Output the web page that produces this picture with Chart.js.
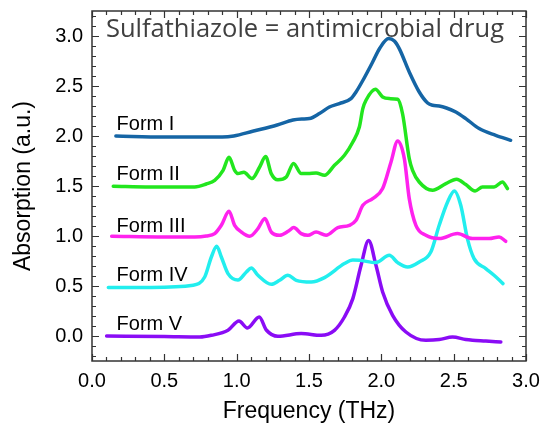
<!DOCTYPE html>
<html>
<head>
<meta charset="utf-8">
<script src="https://cdn.jsdelivr.net/npm/chart.js@4/dist/chart.umd.min.js"></script>
<style>
html,body{margin:0;padding:0;background:#fff;}
#wrap{width:543px;height:425px;position:relative;}
</style>
</head>
<body>
<div id="wrap"><canvas id="c" width="543" height="425"></canvas></div>
<script>
// ---- data ----
const formNames = ["Form I", "Form II", "Form III", "Form IV", "Form V"];
const formColors = ["#1565a5", "#22e61e", "#ff22ee", "#22eeee", "#8a0cf5"];
const labelFreq = [0.17, 0.17, 0.17, 0.17, 0.17];
const labelAbs = [2.06, 1.56, 1.04, 0.55, 0.06];

const formIFreq = [0.165,0.5,0.9,0.98,1.11,1.28,1.389,1.45,1.503,1.572,1.641,1.71,1.79,1.825,1.87,1.94,1.99,2.05,2.09,2.124,2.193,2.262,2.32,2.354,2.4,2.45,2.515,2.584,2.676,2.791,2.894];
const formIAbs  = [2.0,1.99,1.99,2.0,2.047,2.11,2.16,2.17,2.174,2.224,2.29,2.324,2.374,2.44,2.55,2.74,2.88,2.975,2.95,2.874,2.64,2.44,2.33,2.307,2.3,2.28,2.24,2.174,2.074,2.007,1.957];

const formIIFreq = [0.147,0.4,0.71,0.79,0.848,0.906,0.947,0.986,1.009,1.05,1.106,1.159,1.2,1.239,1.285,1.343,1.393,1.446,1.492,1.549,1.607,1.676,1.745,1.803,1.848,1.872,1.894,1.959,2.009,2.055,2.113,2.147,2.193,2.216,2.262,2.354,2.446,2.52,2.584,2.648,2.699,2.779,2.837,2.872];
const formIIAbs  = [1.497,1.49,1.49,1.52,1.557,1.657,1.787,1.657,1.624,1.637,1.574,1.69,1.795,1.624,1.562,1.59,1.725,1.624,1.624,1.63,1.607,1.707,1.807,1.94,2.09,2.274,2.357,2.467,2.39,2.374,2.367,2.22,1.774,1.657,1.54,1.457,1.524,1.567,1.514,1.45,1.49,1.49,1.54,1.474];

const formIIIFreq = [0.136,0.5,0.71,0.79,0.848,0.894,0.947,0.986,1.032,1.09,1.147,1.195,1.239,1.297,1.359,1.395,1.446,1.492,1.549,1.618,1.699,1.779,1.825,1.872,1.94,2.009,2.067,2.113,2.159,2.193,2.239,2.308,2.4,2.526,2.63,2.745,2.814,2.86];
const formIIIAbs  = [0.997,0.99,0.99,1.0,1.024,1.107,1.247,1.107,1.04,0.997,1.074,1.175,1.04,1.007,1.05,1.084,1.024,1.007,1.04,1.007,1.084,1.107,1.157,1.307,1.374,1.474,1.74,1.95,1.774,1.374,1.107,1.007,0.974,1.024,0.974,0.974,0.99,0.947];

const formIVFreq = [0.113,0.4,0.699,0.779,0.825,0.862,0.894,0.94,1.009,1.067,1.101,1.147,1.239,1.297,1.354,1.412,1.515,1.607,1.745,1.803,1.848,1.963,2.055,2.113,2.182,2.262,2.342,2.4,2.458,2.505,2.549,2.595,2.641,2.722,2.779,2.841];
const formIVAbs  = [0.484,0.485,0.507,0.59,0.79,0.897,0.79,0.624,0.56,0.64,0.68,0.607,0.517,0.557,0.607,0.557,0.54,0.584,0.724,0.76,0.757,0.734,0.807,0.734,0.69,0.74,0.84,1.107,1.34,1.45,1.307,0.974,0.774,0.674,0.607,0.524];

const formVFreq = [0.101,0.5,0.745,0.825,0.94,1.016,1.074,1.156,1.205,1.285,1.446,1.584,1.676,1.745,1.803,1.86,1.912,1.963,2.009,2.078,2.17,2.308,2.4,2.492,2.584,2.63,2.722,2.826];
const formVAbs  = [0.0,-0.005,-0.01,0.007,0.057,0.15,0.08,0.19,0.06,-0.003,0.024,0.007,0.057,0.19,0.374,0.707,0.955,0.707,0.44,0.207,0.04,-0.043,-0.036,-0.01,-0.036,-0.043,-0.05,-0.06];

const xTickValues = [0.0, 0.5, 1.0, 1.5, 2.0, 2.5, 3.0];
const yTickValues = [0.0, 0.5, 1.0, 1.5, 2.0, 2.5, 3.0];
const titleText = "Sulfathiazole = antimicrobial drug";
const xTitle = "Frequency (THz)";
const yTitle = "Absorption (a.u.)";

// ---- build ----
const freqs = [formIFreq, formIIFreq, formIIIFreq, formIVFreq, formVFreq];
const abss = [formIAbs, formIIAbs, formIIIAbs, formIVAbs, formVAbs];
const datasets = formNames.map((n, i) => ({
  label: n,
  data: freqs[i].map((f, j) => ({x: f, y: abss[i][j]})),
  borderColor: formColors[i],
  borderWidth: 3.5,
  pointRadius: 0,
  fill: false,
  cubicInterpolationMode: 'monotone',
  borderCapStyle: 'round',
  borderJoinStyle: 'round'
}));

const FONT = "'Liberation Sans', Arial, sans-serif";

const framePlugin = {
  id: 'frame',
  afterDraw(chart) {
    const ctx = chart.ctx;
    const {left, right, top, bottom} = chart.chartArea;
    const xs = chart.scales.x, ys = chart.scales.y;
    ctx.save();
    ctx.strokeStyle = '#333';
    ctx.lineWidth = 1.5;
    ctx.strokeRect(left, top, right - left, bottom - top);
    ctx.lineWidth = 1.2;
    ctx.beginPath();
    for (let i = 0; i <= 30; i++) {
      const px = Math.round(xs.getPixelForValue(i / 10)) + 0.5;
      const len = (i % 5 === 0) ? 7 : 4;
      ctx.moveTo(px, bottom); ctx.lineTo(px, bottom - len);
      ctx.moveTo(px, top); ctx.lineTo(px, top + len);
    }
    for (let i = -2; i <= 32; i++) {
      const py = Math.round(ys.getPixelForValue(i / 10)) + 0.5;
      const len = (i % 5 === 0) ? 7 : 4;
      ctx.moveTo(left, py); ctx.lineTo(left + len, py);
      ctx.moveTo(right, py); ctx.lineTo(right - len, py);
    }
    ctx.stroke();
    // title inside plot
    ctx.fillStyle = '#404040';
    ctx.font = "25.5px 'Open Sans', sans-serif";
    ctx.textBaseline = 'alphabetic';
    ctx.textAlign = 'left';
    ctx.fillText(titleText, left + 14, top + 25.5, 398);
    // form labels
    ctx.fillStyle = '#000';
    ctx.font = "20px " + FONT;
    formNames.forEach((n, i) => {
      ctx.fillText(n, xs.getPixelForValue(labelFreq[i]), ys.getPixelForValue(labelAbs[i]));
    });
    ctx.restore();
  }
};

new Chart(document.getElementById('c'), {
  type: 'line',
  data: {datasets},
  options: {
    responsive: false,
    animation: false,
    layout: {padding: {top: 11, right: 17, bottom: 0, left: 0}},
    plugins: {legend: {display: false}, tooltip: {enabled: false}},
    scales: {
      x: {
        type: 'linear', min: 0, max: 3,
        grid: {display: false, drawTicks: false},
        border: {display: false},
        afterBuildTicks: s => { s.ticks = xTickValues.map(v => ({value: v})); },
        afterFit: s => { s.height = 64; s.paddingLeft = 0; s.paddingRight = 0; },
        ticks: {
          padding: 8, color: '#000', maxRotation: 0, autoSkip: false,
          font: {family: FONT, size: 20},
          callback: v => Number(v).toFixed(1)
        },
        title: {display: true, text: xTitle, color: '#000', font: {family: FONT, size: 23}, padding: {top: 3, bottom: 0}}
      },
      y: {
        type: 'linear', min: -0.25, max: 3.25,
        grid: {display: false, drawTicks: false},
        border: {display: false},
        afterBuildTicks: s => { s.ticks = yTickValues.map(v => ({value: v})); },
        afterFit: s => { s.width = 92; s.paddingTop = 0; s.paddingBottom = 0; },
        ticks: {
          padding: 9, color: '#000', autoSkip: false,
          font: {family: FONT, size: 20},
          callback: v => Number(v).toFixed(1)
        },
        title: {display: true, text: yTitle, color: '#000', font: {family: FONT, size: 23}, padding: {top: 10, bottom: 0}}
      }
    }
  },
  plugins: [framePlugin]
});
</script>
</body>
</html>
